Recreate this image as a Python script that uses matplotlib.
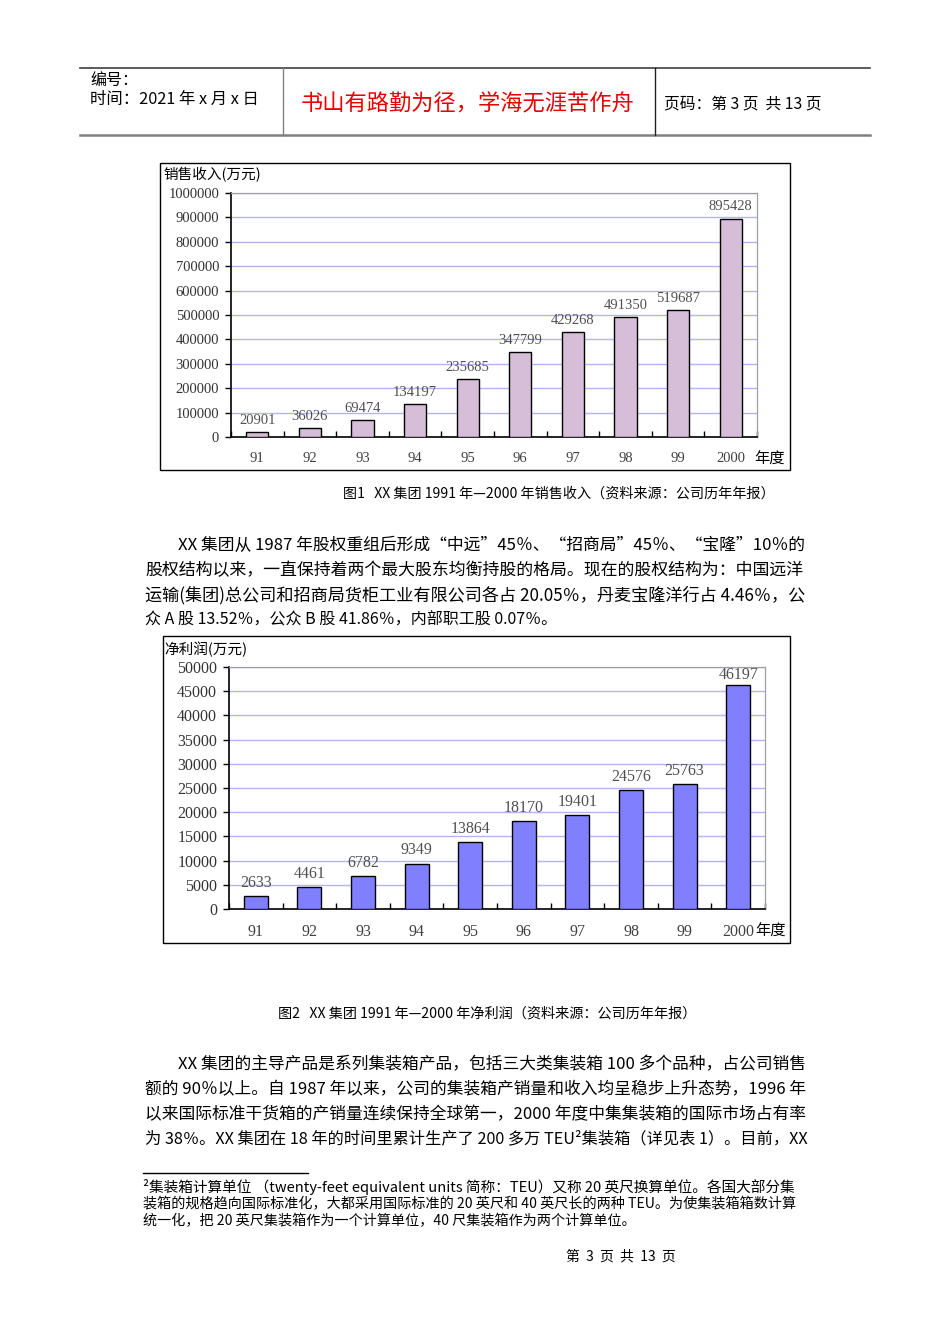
import matplotlib
matplotlib.use('Agg')
import matplotlib.pyplot as plt
from matplotlib.patches import Rectangle
from matplotlib.lines import Line2D
from matplotlib.ticker import FuncFormatter
import numpy as np

W, H = 950, 1344
CJK = ['Noto Sans CJK SC', 'DejaVu Sans']
SERIF = ['Liberation Serif', 'Noto Sans CJK SC', 'DejaVu Sans']

# ---------------- data ----------------
years = ['91', '92', '93', '94', '95', '96', '97', '98', '99', '2000']
sales = [20901, 36026, 69474, 134197, 235685, 347799, 429268, 491350, 519687, 895428]
profit = [2633, 4461, 6782, 9349, 13864, 18170, 19401, 24576, 25763, 46197]
sales_ylabel = '销售收入(万元)'
profit_ylabel = '净利润(万元)'
xlabel = '年度'

header_left = ['编号：', '时间：2021 年 x 月 x 日']
header_title = '书山有路勤为径，学海无涯苦作舟'
header_right = '页码：第 3 页  共 13 页'

caption1 = '图1   XX 集团 1991 年—2000 年销售收入（资料来源：公司历年年报）'
caption2 = '图2   XX 集团 1991 年—2000 年净利润（资料来源：公司历年年报）'

para1 = ['XX 集团从 1987 年股权重组后形成“中远”45％、“招商局”45％、“宝隆”10％的',
         '股权结构以来，一直保持着两个最大股东均衡持股的格局。现在的股权结构为：中国远洋',
         '运输(集团)总公司和招商局货柜工业有限公司各占 20.05％，丹麦宝隆洋行占 4.46％，公',
         '众 A 股 13.52％，公众 B 股 41.86％，内部职工股 0.07％。']
para2 = ['XX 集团的主导产品是系列集装箱产品，包括三大类集装箱 100 多个品种，占公司销售',
         '额的 90％以上。自 1987 年以来，公司的集装箱产销量和收入均呈稳步上升态势，1996 年',
         '以来国际标准干货箱的产销量连续保持全球第一，2000 年度中集集装箱的国际市场占有率',
         '为 38％。XX 集团在 18 年的时间里累计生产了 200 多万 TEU²集装箱（详见表 1）。目前，XX']
footnote = ['²集装箱计算单位 （twenty-feet equivalent units 简称：TEU）又称 20 英尺换算单位。各国大部分集',
            '装箱的规格趋向国际标准化，大都采用国际标准的 20 英尺和 40 英尺长的两种 TEU。为使集装箱箱数计算',
            '统一化，把 20 英尺集装箱作为一个计算单位，40 尺集装箱作为两个计算单位。']
page_footer = '第  3  页  共  13  页'

fig = plt.figure(figsize=(W / 100, H / 100), dpi=100)
renderer = fig.canvas.get_renderer()


def fx(x):
    return x / W


def fy(y):
    return 1 - y / H


def txt(x, y, s, size, family=CJK, **kw):
    kw.setdefault('va', 'center')
    return fig.text(fx(x), fy(y), s, fontsize=size, family=family, **kw)


def fit_txt(x, y, s, size, right, **kw):
    """Left-aligned text whose size is tuned so it ends near `right` (px)."""
    t = txt(x, y, s, size, **kw)
    for _ in range(2):
        w = t.get_window_extent(renderer).width
        if w > 0:
            t.set_fontsize(t.get_fontsize() * (right - x) / w)
    return t


def line(x0, y0, x1, y1, color='black', lw=1.0):
    fig.add_artist(Line2D([fx(x0), fx(x1)], [fy(y0), fy(y1)], color=color, lw=lw,
                          transform=fig.transFigure))


# ---------------- header ----------------
line(80, 68, 870, 68, color='#404040', lw=1.2)
line(80, 135, 870, 135, color='#808080', lw=1.8)
line(283, 68, 283, 135, color='#808080', lw=1.0)
line(655, 68, 655, 135, color='#202020', lw=1.0)
txt(90, 80, header_left[0], 11.5)
fit_txt(90, 99, header_left[1], 11.5, 259)
txt(468, 104, header_title, 16, color='#E60000', ha='center')
fit_txt(664, 104, header_right, 11, 822)


# ---------------- charts ----------------
def chart(box, area, values, ymax, step, color, ylabel, ylab_pos, xlab_pos,
          tsize, width, xpad):
    bx0, by0, bx1, by1 = box
    fig.add_artist(Rectangle((fx(bx0), fy(by1)), (bx1 - bx0) / W, (by1 - by0) / H,
                             transform=fig.transFigure, fill=False, ec='black', lw=1.0))
    l, t, r, b = area
    ax = fig.add_axes([fx(l), fy(b), (r - l) / W, (b - t) / H])
    x = np.arange(len(years))
    ax.bar(x, values, width=width, color=color, edgecolor='black', linewidth=1.0, zorder=3)
    ax.set_xlim(-0.5, len(years) - 0.5)
    ax.set_ylim(0, ymax)
    ax.set_yticks(np.arange(0, ymax + 1, step))
    ax.yaxis.set_major_formatter(FuncFormatter(lambda v, p: f'{int(round(v))}'))
    ax.yaxis.grid(True, color='#B4B4F0', lw=1.0)
    ax.set_axisbelow(True)
    ax.set_xticks(np.arange(-0.5, len(years)))
    ax.set_xticklabels([])
    ax.set_xticks(x, minor=True)
    ax.set_xticklabels(years, minor=True)
    ax.tick_params(axis='x', which='major', direction='in', length=4, width=1)
    ax.tick_params(axis='x', which='minor', length=0, pad=xpad, labelsize=tsize,
                   labelcolor='#404040')
    ax.tick_params(axis='y', direction='out', length=4, width=1, pad=4.5,
                   labelsize=tsize, labelcolor='#333333')
    for lbl in ax.get_xticklabels(minor=True) + ax.get_yticklabels():
        lbl.set_fontfamily(SERIF)
    for s in ('left', 'bottom'):
        ax.spines[s].set_color('black')
        ax.spines[s].set_linewidth(1.2)
    for s in ('top', 'right'):
        ax.spines[s].set_color('#A0A0A0')
        ax.spines[s].set_linewidth(0.9)
    for xi, v in zip(x, values):
        yv = min(v + ymax * 0.022, ymax * 0.935)
        ax.text(xi, yv, str(v), ha='center', va='bottom', fontsize=tsize,
                family=SERIF, color='#505050', zorder=4)
    txt(ylab_pos[0], ylab_pos[1], ylabel, 10.5)
    txt(xlab_pos[0], xlab_pos[1], xlabel, 11)
    return ax


chart((160, 163, 790, 470), (231, 193, 757, 437), sales, 1000000, 100000,
      '#D6BED8', sales_ylabel, (163, 175), (754, 459), 10.5, 0.42, 11)
chart((163, 636, 790, 943), (229, 667, 765, 909), profit, 50000, 5000,
      '#8080FF', profit_ylabel, (164, 649), (755, 931), 11.5, 0.45, 11)

# ---------------- captions & text ----------------
fit_txt(343, 494, caption1, 9.5, 775)
fit_txt(278, 1014, caption2, 9.5, 697)

for i, s in enumerate(para1):
    x0 = 178 if i == 0 else 145
    if i < len(para1) - 1:
        fit_txt(x0, 545 + i * 25, s, 12, 805)
    else:
        fit_txt(x0, 545 + i * 25, s, 12, 556)
for i, s in enumerate(para2):
    x0 = 178 if i == 0 else 145
    fit_txt(x0, 1065 + i * 24.7, s, 12, 805)

line(143, 1173, 308, 1173, color='black', lw=1.0)
foot_right = [795, 797, 634]
for i, s in enumerate(footnote):
    fit_txt(143, 1187 + i * 17, s, 9.5, foot_right[i])

txt(621, 1256, page_footer, 10, ha='center')

fig.savefig('out.png', dpi=100)
